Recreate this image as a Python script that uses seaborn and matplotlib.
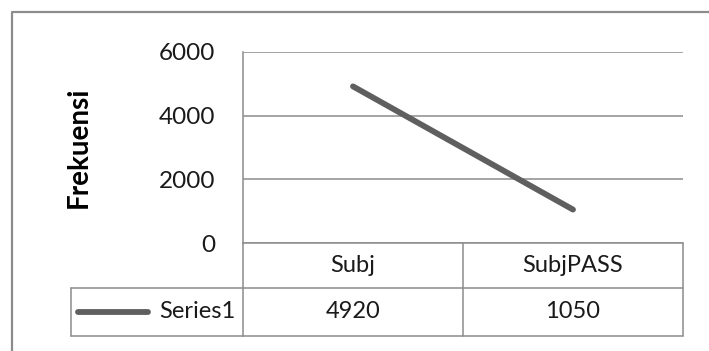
import matplotlib
matplotlib.use("Agg")
import matplotlib.pyplot as plt
import matplotlib.transforms as mtransforms
from matplotlib.lines import Line2D
import seaborn as sns
import pandas as pd

# Data
categories = ["Subj", "SubjPASS"]
series_name = "Series1"
values = [4920, 1050]
y_ticks = [0, 2000, 4000, 6000]
y_label = "Frekuensi"

sns.set_theme(style="white")
plt.rcParams["font.family"] = ["Lato", "DejaVu Sans"]

LINE_COLOR = "#5f5f5f"
GRID_COLOR = "#8c8c8c"
TEXT_COLOR = "#1a1a1a"
FS = 17

W, H = 709, 351
fig = plt.figure(figsize=(W / 100, H / 100), dpi=100)
fig.patch.set_facecolor("white")

# plot area in pixel coordinates
px_left, px_right, px_top, px_bottom = 243, 683, 52, 243
ax = fig.add_axes([px_left / W, 1 - px_bottom / H,
                   (px_right - px_left) / W, (px_bottom - px_top) / H])

df = pd.DataFrame({"category": categories, "value": values})
df["pos"] = range(len(categories))
sns.lineplot(data=df, x="pos", y="value", ax=ax, color=LINE_COLOR,
             linewidth=4.2, solid_capstyle="round", legend=False)

ax.set_xlim(-0.5, len(categories) - 0.5)
ax.set_ylim(y_ticks[0], y_ticks[-1])
ax.set_yticks(y_ticks)
ax.set_yticklabels([str(t) for t in y_ticks], fontsize=FS + 0.5, color=TEXT_COLOR)
ax.set_xticks([])
ax.set_xlabel("")
ax.set_ylabel(y_label, fontsize=20, fontweight="bold", color="black",
              labelpad=48)
ax.tick_params(axis="y", length=0, pad=20)
ax.yaxis.grid(True, color=GRID_COLOR, linewidth=1.1)
ax.set_axisbelow(True)
for side in ["top", "right", "bottom"]:
    ax.spines[side].set_visible(False)
ax.spines["left"].set_color(GRID_COLOR)
ax.spines["left"].set_linewidth(1.1)

# Data table below the plot: x follows the category scale, y in pixels
blend = mtransforms.blended_transform_factory(ax.transData, fig.transFigure)
fig_px = mtransforms.blended_transform_factory(fig.transFigure, fig.transFigure)

def fy(py):
    return 1 - py / H

row1_top, row1_bot, row2_bot = 243, 288, 336
x_lo, x_hi = -0.5, len(categories) - 0.5
cell_left_px = 71

lines = []
# horizontal rules
lines.append(Line2D([x_lo, x_hi], [fy(row1_top)] * 2, transform=blend))
lines.append(Line2D([x_lo, x_hi], [fy(row1_bot)] * 2, transform=blend))
lines.append(Line2D([x_lo, x_hi], [fy(row2_bot)] * 2, transform=blend))
lines.append(Line2D([cell_left_px / W, px_left / W], [fy(row1_bot)] * 2, transform=fig_px))
lines.append(Line2D([cell_left_px / W, px_left / W], [fy(row2_bot)] * 2, transform=fig_px))
# vertical rules between and around category columns
for i in range(len(categories) + 1):
    xb = i - 0.5
    lines.append(Line2D([xb, xb], [fy(row1_top), fy(row2_bot)], transform=blend))
lines.append(Line2D([cell_left_px / W] * 2, [fy(row1_bot), fy(row2_bot)], transform=fig_px))
for ln in lines:
    ln.set_color(GRID_COLOR)
    ln.set_linewidth(1.1)
    fig.add_artist(ln)

for i, (cat, val) in enumerate(zip(categories, values)):
    t = fig.text(0, 0, cat, transform=blend, fontsize=FS, color=TEXT_COLOR,
                 ha="center", va="center")
    t.set_position((i, fy((row1_top + row1_bot) / 2)))
    t = fig.text(0, 0, f"{val}", transform=blend, fontsize=FS, color=TEXT_COLOR,
                 ha="center", va="center")
    t.set_position((i, fy((row1_bot + row2_bot) / 2)))

# legend key in the series cell
mid = fy((row1_bot + row2_bot) / 2)
fig.add_artist(Line2D([78 / W, 148 / W], [mid, mid], transform=fig_px,
                      color=LINE_COLOR, linewidth=4.2, solid_capstyle="round"))
fig.text(235 / W, mid, series_name, fontsize=FS, color=TEXT_COLOR,
         ha="right", va="center")

# chart-area border (continues past the right and bottom edges)
fig.add_artist(Line2D([12 / W, 12 / W, 1.0], [0.0, fy(12), fy(12)],
                      transform=fig_px, color=GRID_COLOR, linewidth=1.6))

fig.savefig("out.png", dpi=100, facecolor="white")
